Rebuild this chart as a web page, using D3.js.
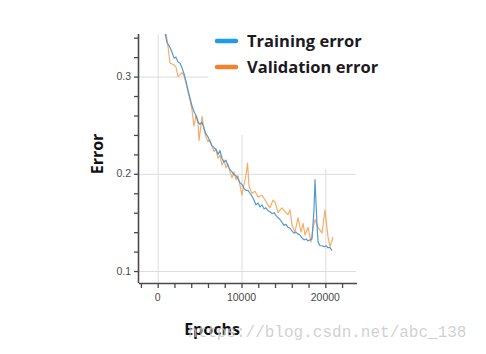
<!DOCTYPE html>
<html>
<head>
<meta charset="utf-8">
<script src="https://cdn.jsdelivr.net/npm/d3@7"></script>
<style>
  body { margin: 0; background: #fff; }
  svg { display: block; }
</style>
</head>
<body>
<div id="chart"></div>
<script>
// DATA
var trainEpochs = [870, 1110, 1470, 1710, 1950, 2180, 2420, 2660, 2900, 3140, 3380, 3620, 3850, 4090, 4330, 4570, 4810, 5050, 5290, 5530, 5760, 6000, 6240, 6480, 6720, 6960, 7200, 7430, 7670, 7910, 8150, 8390, 8630, 8870, 9110, 9340, 9580, 9820, 10060, 10300, 10540, 10780, 11010, 11250, 11490, 11730, 11970, 12210, 12450, 12690, 12920, 13160, 13400, 13640, 13880, 14120, 14360, 14590, 14830, 15070, 15310, 15550, 15790, 16030, 16270, 16500, 16740, 16980, 17220, 17460, 17700, 17940, 18170, 18410, 18650, 18770, 19010, 19130, 19370, 19610, 19850, 20080, 20320, 20560, 20800]
var trainError = [0.345, 0.335, 0.330, 0.325, 0.319, 0.320, 0.315, 0.314, 0.309, 0.303, 0.295, 0.286, 0.278, 0.270, 0.264, 0.260, 0.253, 0.251, 0.253, 0.247, 0.241, 0.238, 0.233, 0.229, 0.227, 0.225, 0.220, 0.224, 0.216, 0.212, 0.214, 0.208, 0.204, 0.202, 0.199, 0.198, 0.195, 0.191, 0.189, 0.185, 0.183, 0.183, 0.180, 0.177, 0.173, 0.168, 0.170, 0.166, 0.168, 0.164, 0.165, 0.162, 0.161, 0.159, 0.160, 0.157, 0.155, 0.153, 0.150, 0.147, 0.148, 0.145, 0.144, 0.141, 0.139, 0.140, 0.138, 0.137, 0.134, 0.132, 0.133, 0.131, 0.132, 0.133, 0.163, 0.194, 0.147, 0.130, 0.126, 0.126, 0.125, 0.126, 0.124, 0.124, 0.121]

var validEpochs = [990, 1230, 1470, 1710, 1950, 2180, 2420, 2660, 2900, 3140, 3380, 3620, 3850, 4090, 4330, 4570, 4810, 4930, 5290, 5530, 5760, 6000, 6240, 6480, 6720, 6960, 7200, 7430, 7670, 7910, 8150, 8390, 8630, 8870, 9110, 9340, 9580, 9820, 10060, 10300, 10540, 10720, 10900, 11250, 11610, 11970, 12450, 12800, 13160, 13400, 13760, 14000, 14360, 14830, 15190, 15550, 15790, 16030, 16380, 16740, 17100, 17340, 17580, 17940, 18290, 18530, 18770, 19130, 19610, 19960, 20320, 20560, 20920]
var validError = [0.345, 0.331, 0.314, 0.313, 0.312, 0.310, 0.300, 0.302, 0.304, 0.301, 0.293, 0.284, 0.276, 0.266, 0.249, 0.260, 0.255, 0.234, 0.259, 0.245, 0.238, 0.233, 0.235, 0.228, 0.223, 0.225, 0.216, 0.219, 0.209, 0.214, 0.206, 0.210, 0.202, 0.196, 0.202, 0.194, 0.198, 0.188, 0.178, 0.189, 0.199, 0.211, 0.187, 0.180, 0.182, 0.176, 0.178, 0.173, 0.168, 0.165, 0.173, 0.171, 0.160, 0.165, 0.161, 0.158, 0.163, 0.147, 0.140, 0.155, 0.140, 0.149, 0.137, 0.145, 0.130, 0.144, 0.153, 0.145, 0.139, 0.163, 0.135, 0.125, 0.135]

var xMajorTicks = [0, 10000, 20000]
var xMinorTicks = [-2000, 0, 2000, 4000, 6000, 8000, 10000, 12000, 14000, 16000, 18000, 20000, 22000]
var yMajorTicks = [0.1, 0.2, 0.3]
var yMinorTicks = [0.1, 0.12, 0.14, 0.16, 0.18, 0.2, 0.22, 0.24, 0.26, 0.28, 0.3, 0.32, 0.34]

var seriesNames = ['Training error', 'Validation error']
var seriesColors = ['#4a95d2', '#f6a456']
var legendColors = ['#1e9de2', '#f5812c']

var W = 486, H = 354
var plot = {left: 139, right: 357, top: 34, bottom: 283}

var svg = d3.select('#chart').append('svg')
  .attr('width', W)
  .attr('height', H)

var x = d3.scaleLinear().domain([-2230, 23780]).range([plot.left, plot.right])
var y = d3.scaleLinear().domain([0.0877, 0.3438]).range([plot.bottom, plot.top])

// GRID
var grid = svg.append('g').attr('stroke', '#dcdcdc').attr('stroke-width', 1)
grid.selectAll('.hg').data(yMajorTicks).enter().append('line')
  .attr('x1', plot.left).attr('x2', plot.right - 1)
  .attr('y1', d => y(d) + 0.5).attr('y2', d => y(d) + 0.5)
grid.selectAll('.vg').data(xMajorTicks).enter().append('line')
  .attr('y1', plot.top).attr('y2', plot.bottom)
  .attr('x1', d => x(d) + 0.5).attr('x2', d => x(d) + 0.5)

// white patch behind the legend hides the grid there
svg.append('path')
  .attr('d', 'M208,30 L380,30 L380,169 L300,169 L300,135 L208,135 Z')
  .attr('fill', '#fff')

// LINES
svg.append('clipPath').attr('id', 'clip')
  .append('rect').attr('x', plot.left).attr('y', plot.top)
  .attr('width', plot.right - plot.left).attr('height', plot.bottom - plot.top)

var line = d3.line().x(d => x(d[0])).y(d => y(d[1]))
var series = [
  d3.zip(validEpochs, validError),
  d3.zip(trainEpochs, trainError)
]
svg.append('g').attr('clip-path', 'url(#clip)')
  .selectAll('path').data(series).enter().append('path')
  .attr('d', line)
  .attr('fill', 'none')
  .attr('stroke', (d, i) => i == 0 ? seriesColors[1] : seriesColors[0])
  .attr('stroke-width', 1.2)
  .attr('stroke-opacity', (d, i) => i == 0 ? 0.9 : 0.95)
  .attr('stroke-linejoin', 'round')

// AXES
var xAxis = svg.append('g').attr('transform', 'translate(0,' + plot.bottom + ')')
xAxis.call(d3.axisBottom(x).tickValues(xMinorTicks).tickSize(5).tickSizeOuter(0).tickFormat(''))
xAxis.call(g => {
  g.select('.domain').attr('d', 'M' + plot.left + ',0.5H' + plot.right)
  g.selectAll('line').attr('stroke', '#4a4a4a').attr('stroke-width', 1.3)
  g.selectAll('.domain').attr('stroke', '#4a4a4a').attr('stroke-width', 1.6)
})
xAxis.selectAll('.lbl').data(xMajorTicks).enter().append('text')
  .attr('x', d => x(d)).attr('y', 18)
  .attr('text-anchor', 'middle')
  .attr('fill', '#4a4a4a')
  .style('font-family', 'Liberation Sans, Arial, sans-serif')
  .style('font-size', '10.5px')
  .text(d => d)

var yAxis = svg.append('g').attr('transform', 'translate(' + plot.left + ',0)')
yAxis.call(d3.axisLeft(y).tickValues(yMinorTicks).tickSize(5).tickSizeOuter(0).tickFormat(''))
yAxis.call(g => {
  g.select('.domain').attr('d', 'M-0.5,' + plot.top + 'V' + plot.bottom)
  g.selectAll('line').attr('stroke', '#4a4a4a').attr('stroke-width', 1.3)
  g.selectAll('.domain').attr('stroke', '#4a4a4a').attr('stroke-width', 1.6)
})
yAxis.selectAll('.lbl').data(yMajorTicks).enter().append('text')
  .attr('x', -8).attr('y', d => y(d)).attr('dy', '0.35em')
  .attr('text-anchor', 'end')
  .attr('fill', '#4a4a4a')
  .style('font-family', 'Liberation Sans, Arial, sans-serif')
  .style('font-size', '10.5px')
  .text(d => d3.format('.1f')(d))

// AXIS TITLES
svg.append('text')
  .attr('transform', 'translate(103,154) rotate(-90)')
  .attr('text-anchor', 'middle')
  .style('font-family', 'Open Sans, sans-serif')
  .style('font-weight', 'bold')
  .style('font-size', '16px')
  .attr('fill', '#111')
  .text('Error')

svg.append('text')
  .attr('x', 212).attr('y', 335)
  .attr('text-anchor', 'middle')
  .style('font-family', 'Open Sans, sans-serif')
  .style('font-weight', 'bold')
  .style('font-size', '16px')
  .attr('fill', '#111')
  .text('Epochs')

// LEGEND
var legend = svg.selectAll('.legend').data(seriesNames).enter().append('g')
  .attr('class', 'legend')
  .attr('transform', (d, i) => 'translate(217,' + (41 + i * 26) + ')')
legend.append('line')
  .attr('x1', 0).attr('x2', 19)
  .attr('stroke', (d, i) => legendColors[i])
  .attr('stroke-width', 4.5)
  .attr('stroke-linecap', 'round')
legend.append('text')
  .attr('x', 30).attr('y', 6)
  .style('font-family', 'Open Sans, sans-serif')
  .style('font-weight', 'bold')
  .style('font-size', '16.5px')
  .attr('fill', '#1a1a22')
  .text(d => d)

// watermark
svg.append('text')
  .attr('x', 188).attr('y', 337)
  .style('font-family', 'Liberation Mono, monospace')
  .style('font-size', '16px')
  .attr('fill', '#c8c8c8')
  .attr('fill-opacity', 0.85)
  .text('https://blog.csdn.net/abc_138')
</script>
</body>
</html>
